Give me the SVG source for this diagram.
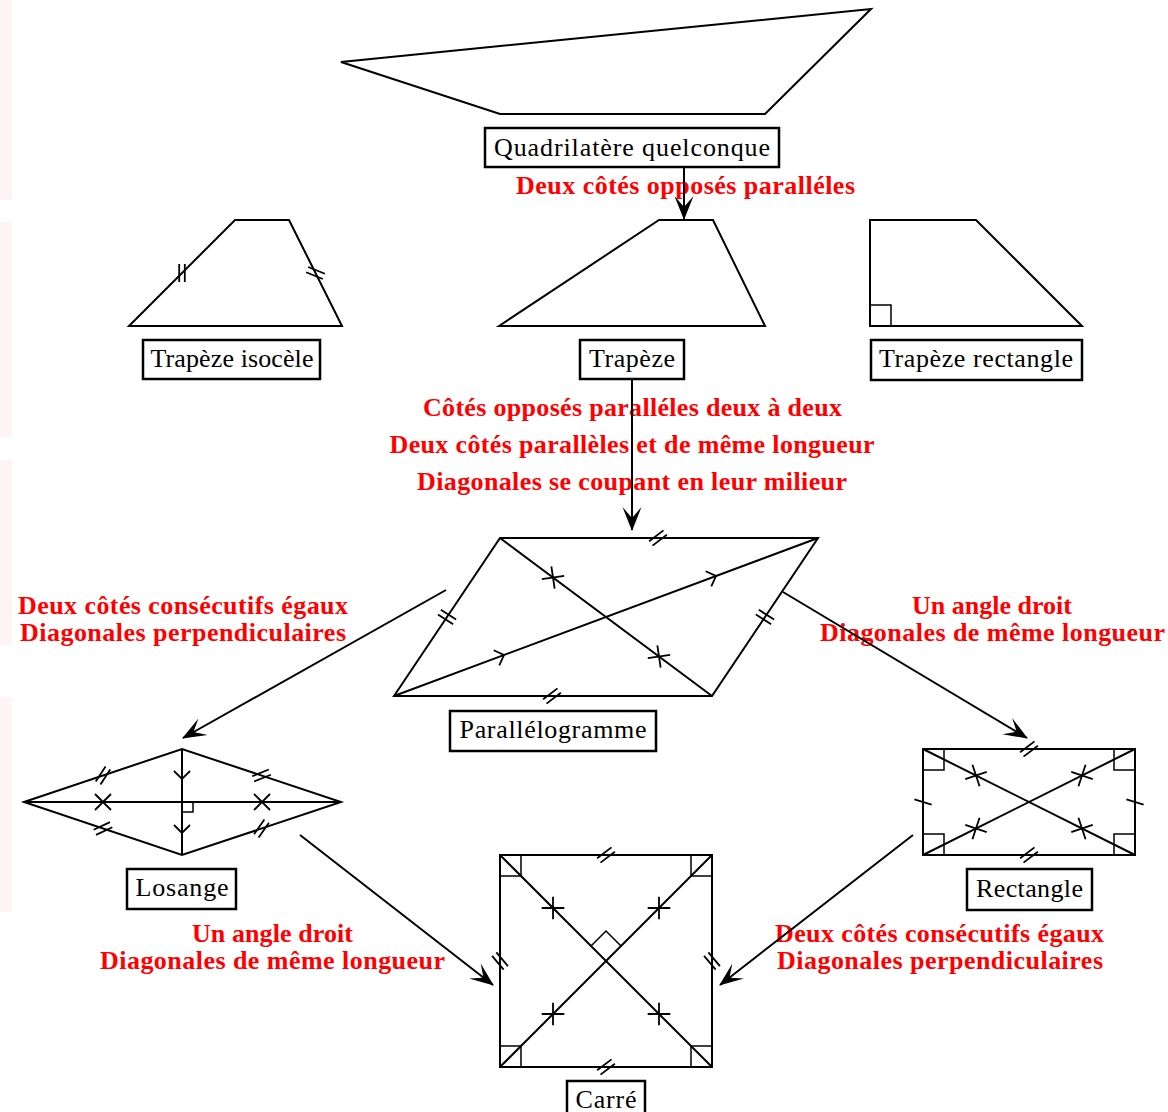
<svg xmlns="http://www.w3.org/2000/svg" width="1168" height="1112" viewBox="0 0 1168 1112">
<style>
.s{fill:none;stroke:#000;stroke-width:2;stroke-linejoin:miter}
.t{fill:none;stroke:#000;stroke-width:1.8}
.ra{fill:none;stroke:#000;stroke-width:1.5}
.box{fill:#fff;stroke:#000;stroke-width:2.5}
.lbl{font-family:"Liberation Serif","Times New Roman",serif;font-size:26px;fill:#000;text-anchor:middle}
.red{font-family:"Liberation Serif","Times New Roman",serif;font-size:26px;font-weight:bold;fill:#ff0000;text-anchor:middle}
.c{fill:none;stroke:#000;stroke-width:2}
.bg{fill:#fef4f6}
</style>
<defs>
<marker id="ah" viewBox="-26 -11 28 22" refX="0" refY="0" markerWidth="28" markerHeight="22" markerUnits="userSpaceOnUse" orient="auto">
<path d="M1,0 L-23,-9.5 L-12,0 L-23,9.5 Z" fill="#000"/>
</marker>
<path id="d2" class="t" d="M-2.8,-9 V9 M2.8,-9 V9"/>
<path id="s1" class="t" d="M0,-9 V9"/>
<path id="xx" class="t" d="M-8,-8 L8,8 M-8,8 L8,-8"/>
<path id="cv" class="t" d="M-8,-8 L0,0 L-8,8"/>
</defs>
<rect width="1168" height="1112" fill="#fff"/>
<g id="strips">
<rect class="bg" x="0" y="0" width="12" height="200"/>
<rect class="bg" x="0" y="222" width="12" height="215"/>
<rect class="bg" x="0" y="460" width="12" height="185"/>
<rect class="bg" x="0" y="697" width="12" height="215"/>
</g>

<g id="quadrilatere">
<polygon class="s" points="341,62 871,9 765,114 500,114"/>
<rect class="box" x="485" y="128" width="294" height="39"/>
<text class="lbl" x="632" y="156" textLength="276" lengthAdjust="spacing">Quadrilatère quelconque</text>
</g>

<g id="trapeze-isocele">
<polygon class="s" points="129,326 235,220 289,220 342,326"/>
<use href="#d2" transform="translate(182,273)"/>
<use href="#d2" transform="translate(315.5,273) rotate(-68)"/>
<rect class="box" x="143" y="340" width="177" height="39"/>
<text class="lbl" x="232" y="367" textLength="163" lengthAdjust="spacing">Trapèze isocèle</text>
</g>

<g id="trapeze">
<polygon class="s" points="499,326 659,220 713,220 765,326"/>
<rect class="box" x="580" y="340" width="104" height="39"/>
<text class="lbl" x="632" y="367" textLength="86" lengthAdjust="spacing">Trapèze</text>
</g>

<g id="trapeze-rectangle">
<polygon class="s" points="870,220 976,220 1082,326 870,326"/>
<path class="ra" d="M870,305 H891 V326"/>
<rect class="box" x="871" y="340" width="211" height="40"/>
<text class="lbl" x="976" y="367" textLength="194" lengthAdjust="spacing">Trapèze rectangle</text>
</g>

<g id="parallelogramme">
<polygon class="s" points="394,696 500,538 818,538 712,696"/>
<line class="s" x1="500" y1="538" x2="712" y2="696"/>
<line class="s" x1="394" y1="696" x2="818" y2="538"/>
<use href="#d2" transform="translate(658,538) rotate(53)"/>
<use href="#d2" transform="translate(552,696) rotate(53)"/>
<use href="#d2" transform="translate(447,617) rotate(-58)"/>
<use href="#d2" transform="translate(765,617) rotate(-58)"/>
<use href="#xx" transform="translate(553,577.5) rotate(36.7)"/>
<use href="#xx" transform="translate(659,656.5) rotate(36.7)"/>
<use href="#cv" transform="translate(504,655) rotate(-20.4)"/>
<use href="#cv" transform="translate(716,576) rotate(-20.4)"/>
<rect class="box" x="450" y="711" width="206" height="40"/>
<text class="lbl" x="553" y="738" textLength="187" lengthAdjust="spacing">Parallélogramme</text>
</g>

<g id="losange">
<polygon class="s" points="24,802 182,749 341,802 182,855"/>
<line class="s" x1="24" y1="802" x2="341" y2="802"/>
<line class="s" x1="182" y1="749" x2="182" y2="855"/>
<path class="ra" d="M182,812 H193 V802"/>
<use href="#d2" transform="translate(103,775.5) rotate(33)"/>
<use href="#d2" transform="translate(261.5,775.5) rotate(68)"/>
<use href="#d2" transform="translate(103,828.5) rotate(65)"/>
<use href="#d2" transform="translate(261.5,828.5) rotate(35)"/>
<use href="#xx" transform="translate(103,802)"/>
<use href="#xx" transform="translate(262,802)"/>
<use href="#cv" transform="translate(182,779) rotate(90)"/>
<use href="#cv" transform="translate(182,833) rotate(90)"/>
<rect class="box" x="127" y="869" width="109" height="40"/>
<text class="lbl" x="182" y="896" textLength="93" lengthAdjust="spacing">Losange</text>
</g>

<g id="rectangle">
<rect class="s" x="923" y="749" width="212" height="106"/>
<line class="s" x1="923" y1="749" x2="1135" y2="855"/>
<line class="s" x1="923" y1="855" x2="1135" y2="749"/>
<path class="ra" d="M923,770 H944 V749 M1114,749 V770 H1135 M923,834 H944 V855 M1114,855 V834 H1135"/>
<use href="#d2" transform="translate(1029,749) rotate(53)"/>
<use href="#d2" transform="translate(1029,855) rotate(53)"/>
<use href="#s1" transform="translate(923,802) rotate(-73)"/>
<use href="#s1" transform="translate(1135,802) rotate(-73)"/>
<use href="#xx" transform="translate(976,775.5) rotate(26.6)"/>
<use href="#xx" transform="translate(1082,828.5) rotate(26.6)"/>
<use href="#xx" transform="translate(976,828.5) rotate(-26.6)"/>
<use href="#xx" transform="translate(1082,775.5) rotate(-26.6)"/>
<rect class="box" x="967" y="869" width="125" height="41"/>
<text class="lbl" x="1029.5" y="897" textLength="107" lengthAdjust="spacing">Rectangle</text>
</g>

<g id="carre">
<rect class="s" x="500" y="855" width="212" height="212"/>
<line class="s" x1="500" y1="855" x2="712" y2="1067"/>
<line class="s" x1="500" y1="1067" x2="712" y2="855"/>
<path class="ra" d="M500,876 H521 V855 M691,855 V876 H712 M500,1046 H521 V1067 M691,1067 V1046 H712"/>
<path class="ra" d="M591,946 L606,931 L621,946"/>
<use href="#d2" transform="translate(606,855) rotate(53)"/>
<use href="#d2" transform="translate(606,1067) rotate(53)"/>
<use href="#d2" transform="translate(500,961) rotate(-40)"/>
<use href="#d2" transform="translate(712,961) rotate(-40)"/>
<use href="#xx" transform="translate(553,908) rotate(45)"/>
<use href="#xx" transform="translate(659,1014) rotate(45)"/>
<use href="#xx" transform="translate(659,908) rotate(-45)"/>
<use href="#xx" transform="translate(553,1014) rotate(-45)"/>
<rect class="box" x="567" y="1081" width="78" height="40"/>
<text class="lbl" x="606" y="1108" textLength="61" lengthAdjust="spacing">Carré</text>
</g>

<g id="labels">
<text class="red" x="685.5" y="194" textLength="339" lengthAdjust="spacing">Deux côtés opposés paralléles</text>
<text class="red" x="632.5" y="416" textLength="419" lengthAdjust="spacing">Côtés opposés paralléles deux à deux</text>
<text class="red" x="632" y="453" textLength="485" lengthAdjust="spacing">Deux côtés parallèles et de même longueur</text>
<text class="red" x="632" y="490" textLength="430" lengthAdjust="spacing">Diagonales se coupant en leur milieur</text>
<text class="red" x="183" y="614" textLength="330" lengthAdjust="spacing">Deux côtés consécutifs égaux</text>
<text class="red" x="183" y="641" textLength="326" lengthAdjust="spacing">Diagonales perpendiculaires</text>
<text class="red" x="992" y="614" textLength="160" lengthAdjust="spacing">Un angle droit</text>
<text class="red" x="992.5" y="641" textLength="345" lengthAdjust="spacing">Diagonales de même longueur</text>
<text class="red" x="272.5" y="942" textLength="161" lengthAdjust="spacing">Un angle droit</text>
<text class="red" x="272.5" y="969" textLength="345" lengthAdjust="spacing">Diagonales de même longueur</text>
<text class="red" x="939.5" y="942" textLength="329" lengthAdjust="spacing">Deux côtés consécutifs égaux</text>
<text class="red" x="940" y="969" textLength="326" lengthAdjust="spacing">Diagonales perpendiculaires</text>
</g>

<g id="connectors">
<line class="c" x1="684" y1="168" x2="684" y2="219" marker-end="url(#ah)"/>
<line class="c" x1="632" y1="380" x2="632" y2="530" marker-end="url(#ah)"/>
<line class="c" x1="446" y1="590" x2="183" y2="738" marker-end="url(#ah)"/>
<line class="c" x1="783" y1="592" x2="1027" y2="738" marker-end="url(#ah)"/>
<line class="c" x1="300" y1="835" x2="493" y2="985" marker-end="url(#ah)"/>
<line class="c" x1="913" y1="835" x2="720" y2="985" marker-end="url(#ah)"/>
</g>
</svg>
